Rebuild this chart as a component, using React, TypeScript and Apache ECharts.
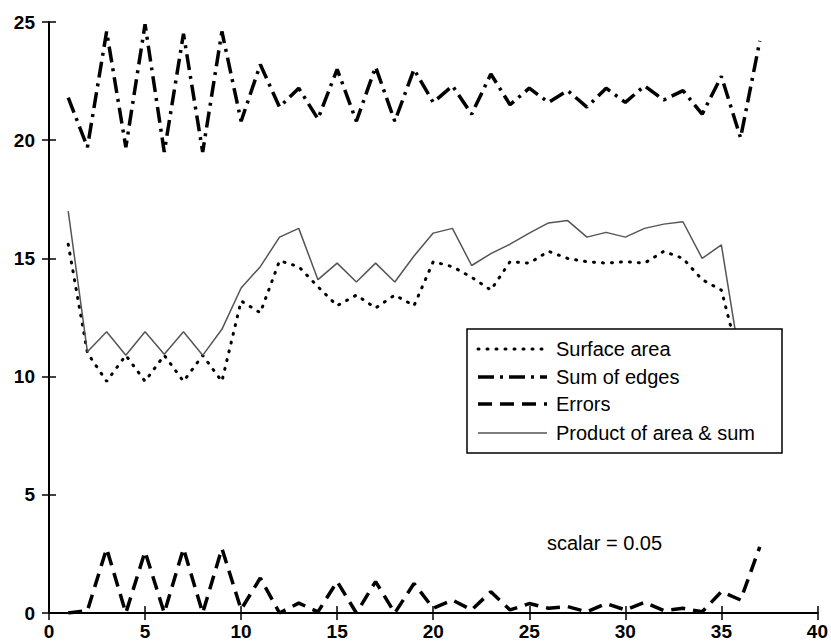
import React, { useEffect, useRef } from "react";
import * as echarts from "echarts";

const xValues = [1, 2, 3, 4, 5, 6, 7, 8, 9, 10, 11, 12, 13, 14, 15, 16, 17, 18, 19, 20, 21, 22, 23, 24, 25, 26, 27, 28, 29, 30, 31, 32, 33, 34, 35, 36, 37];

const surfaceArea = [15.6, 11.0, 9.8, 10.9, 9.8, 10.9, 9.8, 10.9, 9.8, 13.2, 12.7, 14.9, 14.65, 13.8, 13.0, 13.45, 12.9, 13.45, 13.0, 14.86, 14.65, 14.2, 13.66, 14.86, 14.8, 15.3, 15.0, 14.86, 14.8, 14.86, 14.8, 15.3, 15.0, 14.1, 13.66, 10.5, 9.0];

const sumOfEdges = [21.8, 19.7, 24.6, 19.7, 24.9, 19.5, 24.5, 19.5, 24.6, 20.8, 23.2, 21.4, 22.2, 20.9, 23.0, 20.8, 23.1, 20.8, 23.0, 21.6, 22.3, 21.1, 22.8, 21.5, 22.2, 21.6, 22.1, 21.4, 22.2, 21.6, 22.3, 21.7, 22.1, 21.1, 22.7, 20.1, 24.2];

const errors = [0, 0.1, 2.73, 0, 2.6, 0, 2.73, 0, 2.73, 0.15, 1.48, 0, 0.42, 0.05, 1.33, 0, 1.33, 0, 1.25, 0.2, 0.55, 0.13, 0.9, 0.13, 0.4, 0.2, 0.27, 0.05, 0.4, 0.13, 0.45, 0.1, 0.2, 0.05, 0.9, 0.55, 2.8];

const productAreaSum = [17.0, 11.05, 11.9, 10.9, 11.9, 10.95, 11.9, 10.9, 12.0, 13.75, 14.65, 15.9, 16.27, 14.1, 14.8, 14.0, 14.8, 14.0, 15.1, 16.07, 16.27, 14.7, 15.2, 15.6, 16.07, 16.5, 16.6, 15.9, 16.1, 15.9, 16.27, 16.45, 16.55, 15.0, 15.57, 10.55, 10.9];

const legendNames = ["Surface area", "Sum of edges", "Errors", "Product of area & sum"];
const annotation = "scalar = 0.05";

const FONT = "'Liberation Sans', Arial, sans-serif";

function pairs(ys: number[]) {
  return xValues.map((x, i) => [x, ys[i]]);
}

export default function App() {
  const ref = useRef<HTMLDivElement>(null);

  useEffect(() => {
    if (!ref.current) return;
    const chart = echarts.init(ref.current, undefined, { renderer: "svg" });

    const styles = [
      { color: "#000", width: 3, type: [1, 8], cap: "round" },
      { color: "#000", width: 3.5, type: [16, 6, 3, 6], cap: "butt" },
      { color: "#000", width: 3.5, type: [14, 8], cap: "butt" },
      { color: "#555", width: 1.5, type: "solid", cap: "butt" },
    ];
    const datasets = [surfaceArea, sumOfEdges, errors, productAreaSum];

    const baseAxisLine = { show: true, lineStyle: { color: "#000", width: 2 } };
    const tick = { show: true, inside: true, length: 7, lineStyle: { color: "#000", width: 1.5 } };
    const label = { color: "#000", fontSize: 19, fontWeight: "bold", fontFamily: FONT };

    const legendTop = 329;
    const legendLeft = 467;
    const rowY = [349, 377, 404, 433];
    const legendElems: any[] = [
      {
        type: "rect",
        z: 100,
        shape: { x: legendLeft, y: legendTop, width: 315, height: 124 },
        style: { fill: "#fff", stroke: "#000", lineWidth: 1.5 },
      },
    ];
    legendNames.forEach((name, i) => {
      const s = styles[i];
      legendElems.push({
        type: "line",
        z: 101,
        shape: { x1: 478, y1: rowY[i], x2: 547, y2: rowY[i] },
        style: {
          stroke: s.color,
          lineWidth: s.width,
          lineDash: Array.isArray(s.type) ? s.type : null,
          lineCap: s.cap,
        },
      });
      legendElems.push({
        type: "text",
        z: 101,
        x: 556,
        y: rowY[i],
        style: {
          text: name,
          fill: "#000",
          font: `20px ${FONT}`,
          textVerticalAlign: "middle",
          textAlign: "left",
        },
      });
    });
    legendElems.push({
      type: "text",
      z: 101,
      x: 547,
      y: 543,
      style: {
        text: annotation,
        fill: "#000",
        font: `20px ${FONT}`,
        textVerticalAlign: "middle",
        textAlign: "left",
      },
    });

    chart.setOption({
      animation: false,
      backgroundColor: "#fff",
      grid: { left: 49, right: 13, top: 22, bottom: 29, containLabel: false },
      xAxis: [
        {
          type: "value",
          min: 0,
          max: 40,
          interval: 5,
          position: "bottom",
          axisLine: baseAxisLine,
          axisTick: tick,
          axisLabel: { ...label, margin: 9 },
          splitLine: { show: false },
        },
        {
          type: "value",
          min: 0,
          max: 40,
          interval: 5,
          position: "top",
          axisLine: baseAxisLine,
          axisTick: tick,
          axisLabel: { show: false },
          splitLine: { show: false },
        },
      ],
      yAxis: [
        {
          type: "value",
          min: 0,
          max: 25,
          interval: 5,
          position: "left",
          axisLine: baseAxisLine,
          axisTick: tick,
          axisLabel: { ...label, margin: 14 },
          splitLine: { show: false },
        },
        {
          type: "value",
          min: 0,
          max: 25,
          interval: 5,
          position: "right",
          axisLine: baseAxisLine,
          axisTick: tick,
          axisLabel: { show: false },
          splitLine: { show: false },
        },
      ],
      series: legendNames.map((name, i) => ({
        name,
        type: "line",
        xAxisIndex: 0,
        yAxisIndex: 0,
        data: pairs(datasets[i]),
        showSymbol: false,
        symbol: "none",
        lineStyle: {
          color: styles[i].color,
          width: styles[i].width,
          type: styles[i].type,
          cap: styles[i].cap,
        },
        z: 2,
      })),
      graphic: { elements: legendElems },
    });

    return () => chart.dispose();
  }, []);

  return (
    <div
      ref={ref}
      style={{ position: "absolute", left: 0, top: 0, width: 831, height: 642 }}
    />
  );
}
